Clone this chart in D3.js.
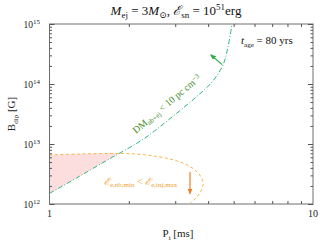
<!DOCTYPE html>
<html>
<head>
  <script src="https://d3js.org/d3.v7.min.js"></script>
  <meta charset='utf-8'>
  <style>
    body { margin: 0; background: #fff; }
    text { font-family: "Liberation Serif", "DejaVu Serif", serif; }
  </style>
</head>
<body>
  <div id="container"></div>
  <script>
  const width = 332, height = 245;
  const margin = {top: 24, right: 19, bottom: 41, left: 49.5};

  // DM constraint curve (green dash-dot)
  const dmP = [1, 1.305, 1.697, 1.852, 2.304, 2.917, 3.566, 4.137, 4.554, 4.757, 4.928];
  const dmB = [1.50e12, 2.93e12, 5.73e12, 7.08e12, 1.26e13, 2.82e13, 5.84e13, 1.08e14, 2.07e14, 4.14e14, 1.0e15];

  // energy constraint curve (orange dashed), top branch then back along the lower branch
  const enP = [1, 1.305, 1.697, 2.0, 2.406, 2.866, 3.268, 3.566, 3.758, 3.825, 3.758, 3.597, 3.414];
  const enB = [6.56e12, 6.81e12, 6.95e12, 6.92e12, 6.43e12, 5.62e12, 4.65e12, 3.69e12, 2.82e12, 2.15e12, 1.65e12, 1.26e12, 1.02e12];

  // shaded (allowed) region runs from P = 1 up to where the two curves meet
  const crossP = 1.83, crossB = 6.9e12;

  const xTicks = [1, 10];
  const yTicks = [1e12, 1e13, 1e14, 1e15];

  const svg = d3.select("#container").append("svg")
    .attr("width", width)
    .attr("height", height);

  const x = d3.scaleLog().domain([1, 10]).range([margin.left, width - margin.right]);
  const y = d3.scaleLog().domain([1e12, 1e15]).range([height - margin.bottom, margin.top]);

  svg.append("clipPath").attr("id", "clip")
    .append("rect")
    .attr("x", x(1)).attr("y", y(1e15))
    .attr("width", x(10) - x(1)).attr("height", y(1e12) - y(1e15));

  const plot = svg.append("g").attr("clip-path", "url(#clip)");

  // pink filled region between the two curves
  const dmPts = dmP.map((p, i) => [p, dmB[i]]);
  const enPts = enP.map((p, i) => [p, enB[i]]);
  const upperEdge = enPts.filter(d => d[0] < crossP && d[1] > 6e12).concat([[crossP, crossB]]);
  const lowerEdge = dmPts.filter(d => d[0] < crossP).reverse();
  const fillPts = upperEdge.concat(lowerEdge);

  plot.append("path")
    .datum(fillPts)
    .attr("d", d3.line().x(d => x(d[0])).y(d => y(d[1])))
    .attr("fill", "#fddede")
    .attr("stroke", "none");

  const line = d3.line()
    .x(d => x(d[0]))
    .y(d => y(d[1]))
    .curve(d3.curveCatmullRom);

  plot.append("path")
    .datum(enPts)
    .attr("d", line)
    .attr("fill", "none")
    .attr("stroke", "#f7b548")
    .attr("stroke-width", 1)
    .attr("stroke-dasharray", "3,2.5");

  plot.append("path")
    .datum(dmPts)
    .attr("d", line)
    .attr("fill", "none")
    .attr("stroke", "#2fb67e")
    .attr("stroke-width", 1)
    .attr("stroke-dasharray", "5,2,1,2");

  // arrows
  const defs = svg.append("defs");
  function marker(id, color) {
    defs.append("marker")
      .attr("id", id)
      .attr("viewBox", "0 0 10 10")
      .attr("refX", 8).attr("refY", 5)
      .attr("markerWidth", 5).attr("markerHeight", 5)
      .attr("orient", "auto")
      .append("path")
      .attr("d", "M0,1 L10,5 L0,9 z")
      .attr("fill", color);
  }
  marker("arrG", "#2eae4a");
  marker("arrO", "#ee7d22");

  svg.append("line")
    .attr("x1", x(4.52)).attr("y1", y(2.1e14))
    .attr("x2", x(4.10)).attr("y2", y(3.04e14))
    .attr("stroke", "#2eae4a").attr("stroke-width", 1.2)
    .attr("marker-end", "url(#arrG)");

  svg.append("line")
    .attr("x1", x(3.414)).attr("y1", y(3.41e12))
    .attr("x2", x(3.414)).attr("y2", y(1.5e12))
    .attr("stroke", "#ee7d22").attr("stroke-width", 1.2)
    .attr("marker-end", "url(#arrO)");

  // frame
  svg.append("rect")
    .attr("x", x(1)).attr("y", y(1e15))
    .attr("width", x(10) - x(1)).attr("height", y(1e12) - y(1e15))
    .attr("fill", "none").attr("stroke", "#6e6e6e").attr("stroke-width", 1);

  // ticks on all four sides, pointing inward
  const xMinor = d3.range(2, 10);
  const yMinor = [];
  for (let e = 12; e < 15; e++) for (let k = 2; k < 10; k++) yMinor.push(k * Math.pow(10, e));

  function axisTicks(axisFn, scale, vals, size, transform) {
    svg.append("g")
      .attr("transform", transform)
      .call(axisFn(scale).tickValues(vals).tickSize(-size).tickFormat(""))
      .call(g => g.select(".domain").remove())
      .call(g => g.selectAll("line").attr("stroke", "#555"));
  }
  const b = y(1e12), t = y(1e15), l = x(1), r = x(10);
  axisTicks(d3.axisBottom, x, xMinor, 3, `translate(0,${b})`);
  axisTicks(d3.axisTop, x, xMinor, 3, `translate(0,${t})`);
  axisTicks(d3.axisLeft, y, yTicks, 5, `translate(${l},0)`);
  axisTicks(d3.axisLeft, y, yMinor, 2.5, `translate(${l},0)`);
  axisTicks(d3.axisRight, y, yTicks, 5, `translate(${r},0)`);
  axisTicks(d3.axisRight, y, yMinor, 2.5, `translate(${r},0)`);

  // tick labels
  svg.selectAll(".xl")
    .data(xTicks)
    .enter().append("text")
    .attr("x", d => x(d))
    .attr("y", 217)
    .attr("text-anchor", "middle")
    .attr("font-size", 10)
    .attr("fill", "#222")
    .text(d => d);

  const yl = svg.selectAll(".yl")
    .data(yTicks)
    .enter().append("text")
    .attr("x", 40)
    .attr("y", d => y(d) + 3.5)
    .attr("text-anchor", "end")
    .attr("font-size", 9.5)
    .attr("fill", "#222");
  yl.append("tspan").text("10");
  yl.append("tspan").attr("dy", -4).attr("font-size", 7).text(d => Math.round(Math.log10(d)));

  // axis titles
  const xt = svg.append("text")
    .attr("x", 178).attr("y", 237)
    .attr("text-anchor", "middle")
    .attr("font-size", 11).attr("fill", "#222");
  xt.append("tspan").text("P");
  xt.append("tspan").attr("dy", 2.5).attr("font-size", 7).text("i");
  xt.append("tspan").attr("dy", -2.5).text(" [ms]");

  const yt = svg.append("text")
    .attr("transform", "translate(15,114) rotate(-90)")
    .attr("text-anchor", "middle")
    .attr("font-size", 11).attr("fill", "#222");
  yt.append("tspan").text("B");
  yt.append("tspan").attr("dy", 2.5).attr("font-size", 7).text("dip");
  yt.append("tspan").attr("dy", -2.5).text(" [G]");

  // title
  const title = svg.append("text")
    .attr("x", 176).attr("y", 15)
    .attr("text-anchor", "middle")
    .attr("font-size", 13).attr("fill", "#111");
  title.append("tspan").attr("font-style", "italic").text("M");
  title.append("tspan").attr("dy", 3).attr("font-size", 9).text("ej");
  title.append("tspan").attr("dy", -3).text(" = 3");
  title.append("tspan").attr("font-style", "italic").text("M");
  title.append("tspan").attr("dy", 3).attr("font-size", 9).text("\u2299");
  title.append("tspan").attr("dy", -3).text(", ");
  title.append("tspan").attr("font-style", "italic").text("\u2130");
  title.append("tspan").attr("dy", 3).attr("font-size", 9).text("sn");
  title.append("tspan").attr("dy", -3).text(" = 10");
  title.append("tspan").attr("dy", -5).attr("font-size", 9).text("51");
  title.append("tspan").attr("dy", 5).text("erg");

  // t_age annotation
  const ta = svg.append("text")
    .attr("x", 241).attr("y", 44)
    .attr("font-size", 11).attr("fill", "#111");
  ta.append("tspan").attr("font-style", "italic").text("t");
  ta.append("tspan").attr("dy", 2.5).attr("font-size", 7).text("age");
  ta.append("tspan").attr("dy", -2.5).text(" = 80 yrs");

  // curve labels
  const gl = svg.append("text")
    .attr("transform", "translate(136,134) rotate(-40)")
    .attr("font-size", 9.8).attr("fill", "#3f8f2a");
  gl.append("tspan").text("DM");
  gl.append("tspan").attr("dy", 2).attr("font-size", 7).text("nb+ej");
  gl.append("tspan").attr("dy", -2).text(" < 10 pc cm");
  gl.append("tspan").attr("dy", -3).attr("font-size", 7).text("\u22123");

  const ol = svg.append("text")
    .attr("x", 104).attr("y", 185)
    .attr("font-size", 10).attr("fill", "#f0a030");
  ol.append("tspan").attr("font-style", "italic").text("\u2130");
  ol.append("tspan").attr("dy", 2).attr("font-size", 7).text("e,nb,min");
  ol.append("tspan").attr("dy", -2).text(" < ");
  ol.append("tspan").attr("font-style", "italic").text("\u2130");
  ol.append("tspan").attr("dy", 2).attr("font-size", 7).text("e,inj,max");
  </script>
</body>
</html>
